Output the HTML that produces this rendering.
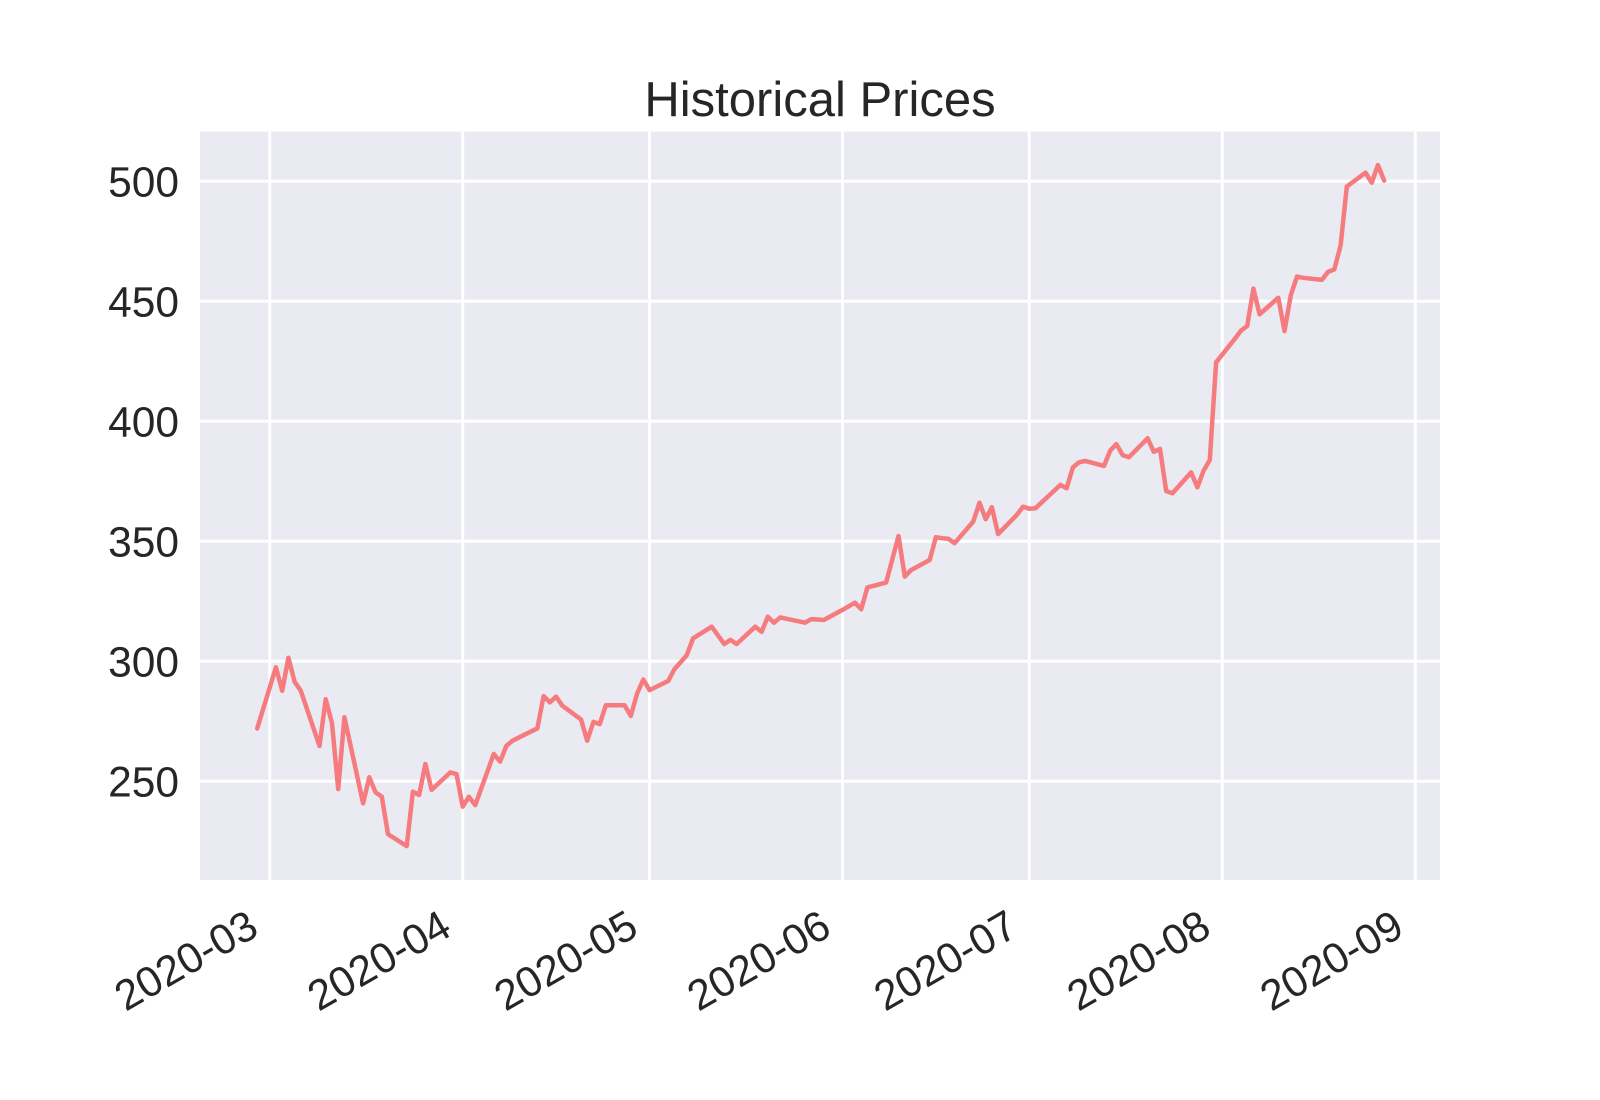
<!DOCTYPE html>
<html><head><meta charset="utf-8"><style>
html,body{margin:0;padding:0;background:#fff;}
svg{display:block;font-family:"Liberation Sans",Arial,sans-serif;}
</style></head><body>
<svg id="chart" width="1600" height="1100" viewBox="0 0 1600 1100" xmlns="http://www.w3.org/2000/svg">
<rect x="0" y="0" width="1600" height="1100" fill="#fff"/>
<text x="820" y="116" font-size="49" fill="#262626" text-anchor="middle">Historical Prices</text>
<rect x="200" y="131.7" width="1240" height="748.3" fill="#eaeaf2"/>
<g id="grid"></g>
<g id="yticks"></g>
<g id="xticks"></g>
<g id="series"></g>
</svg>
<script>
const dates = ["2020-02-28","2020-03-02","2020-03-03","2020-03-04","2020-03-05","2020-03-06","2020-03-09","2020-03-10","2020-03-11","2020-03-12","2020-03-13","2020-03-16","2020-03-17","2020-03-18","2020-03-19","2020-03-20","2020-03-23","2020-03-24","2020-03-25","2020-03-26","2020-03-27","2020-03-30","2020-03-31","2020-04-01","2020-04-02","2020-04-03","2020-04-06","2020-04-07","2020-04-08","2020-04-09","2020-04-13","2020-04-14","2020-04-15","2020-04-16","2020-04-17","2020-04-20","2020-04-21","2020-04-22","2020-04-23","2020-04-24","2020-04-27","2020-04-28","2020-04-29","2020-04-30","2020-05-01","2020-05-04","2020-05-05","2020-05-06","2020-05-07","2020-05-08","2020-05-11","2020-05-12","2020-05-13","2020-05-14","2020-05-15","2020-05-18","2020-05-19","2020-05-20","2020-05-21","2020-05-22","2020-05-26","2020-05-27","2020-05-28","2020-05-29","2020-06-01","2020-06-02","2020-06-03","2020-06-04","2020-06-05","2020-06-08","2020-06-09","2020-06-10","2020-06-11","2020-06-12","2020-06-15","2020-06-16","2020-06-17","2020-06-18","2020-06-19","2020-06-22","2020-06-23","2020-06-24","2020-06-25","2020-06-26","2020-06-29","2020-06-30","2020-07-01","2020-07-02","2020-07-06","2020-07-07","2020-07-08","2020-07-09","2020-07-10","2020-07-13","2020-07-14","2020-07-15","2020-07-16","2020-07-17","2020-07-20","2020-07-21","2020-07-22","2020-07-23","2020-07-24","2020-07-27","2020-07-28","2020-07-29","2020-07-30","2020-07-31","2020-08-03","2020-08-04","2020-08-05","2020-08-06","2020-08-07","2020-08-10","2020-08-11","2020-08-12","2020-08-13","2020-08-14","2020-08-17","2020-08-18","2020-08-19","2020-08-20","2020-08-21","2020-08-24","2020-08-25","2020-08-26","2020-08-27"];
const prices = [272.0,297.5,287.7,301.5,291.5,287.7,264.7,284.2,274.2,246.8,276.7,240.8,251.7,245.4,243.6,228.0,223.0,245.7,244.3,257.2,246.4,253.7,253.0,239.4,243.6,240.1,261.4,258.2,264.7,266.9,272.1,285.5,282.9,285.3,281.5,275.8,266.9,274.8,273.8,281.7,281.7,277.2,286.4,292.4,288.0,291.8,296.7,299.6,302.6,309.6,314.4,310.8,307.2,308.9,307.2,314.4,312.3,318.6,316.1,318.3,316.1,317.6,317.4,317.2,321.4,322.9,324.4,321.7,330.8,332.8,342.5,352.2,335.3,338.0,342.2,351.7,351.3,351.1,349.2,358.2,366.1,359.2,364.2,353.0,361.0,364.4,363.6,363.8,373.5,372.1,380.8,382.9,383.5,381.4,387.8,390.5,385.9,385.0,392.9,387.3,388.5,370.9,370.0,378.7,372.5,379.4,383.9,424.6,434.3,437.8,439.7,455.3,444.6,451.5,437.6,452.6,460.3,459.8,458.9,462.3,463.3,473.2,497.8,503.6,499.4,506.8,500.3];
const yTicks = [250,300,350,400,450,500];
const xTickLabels = ["2020-03","2020-04","2020-05","2020-06","2020-07","2020-08","2020-09"];

const NS = "http://www.w3.org/2000/svg";
const plot = {left:200, right:1440, top:131.7, bottom:880};
const dayMs = 86400000;
const origin = Date.UTC(2020,2,1);
function dayOf(s){ const p = s.split("-").map(Number); return (Date.UTC(p[0],p[1]-1,p[2]||1)-origin)/dayMs; }
function xScale(s){ return 269.7 + dayOf(s)*6.226; }
function yScale(v){ return 181.3 + (500 - v)*2.4; }
function mk(tag, attrs, parent){ const e=document.createElementNS(NS,tag); for(const k in attrs) e.setAttribute(k,attrs[k]); parent.appendChild(e); return e; }

const grid = document.getElementById("grid");
const yg = document.getElementById("yticks");
const xg = document.getElementById("xticks");
yTicks.forEach(v=>{
  const y = yScale(v);
  const l = mk("line",{x1:plot.left,x2:plot.right,y1:y,y2:y,stroke:"#fff","stroke-width":3},grid);
  
  
  const t = mk("text",{x:179,y:y+15,"font-size":42.5,fill:"#262626","text-anchor":"end"},yg);
  t.textContent = v;
  
  
});
xTickLabels.forEach(s=>{
  const x = xScale(s);
  const l = mk("line",{x1:x,x2:x,y1:plot.top,y2:plot.bottom,stroke:"#fff","stroke-width":3},grid);
  
  
  const t = mk("text",{x:0,y:0,"font-size":42.5,fill:"#262626","text-anchor":"end",transform:`translate(${x-9},${934}) rotate(-30)`},xg);
  t.textContent = s;
  
  
});
const pts = dates.map((d,i)=>xScale(d).toFixed(1)+","+yScale(prices[i]).toFixed(1)).join(" ");
const line = mk("polyline",{points:pts,fill:"none",stroke:"#f67b7e","stroke-width":4.5,"stroke-linejoin":"round","stroke-linecap":"round"},document.getElementById("series"));


</script>
</body></html>
